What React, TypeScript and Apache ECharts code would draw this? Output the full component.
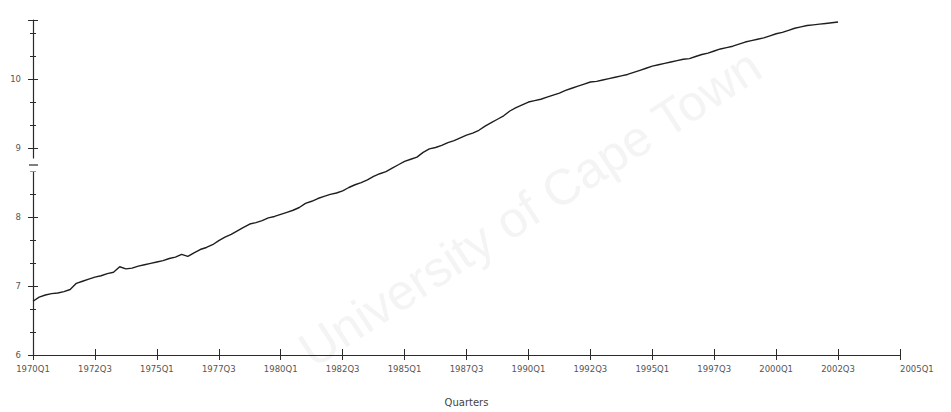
import React, { useEffect, useRef } from "react";
import * as echarts from "echarts";

// Quarter categories from 1970Q1 to 2005Q1
const startYear = 1970;
const quarterCount = 141;
const categories: string[] = [];
for (let i = 0; i < quarterCount; i++) {
  categories.push(`${startYear + Math.floor(i / 4)}Q${(i % 4) + 1}`);
}

// Series values (1970Q1 .. 2002Q3)
const seriesValues: number[] = [
  6.78, 6.84, 6.87, 6.89, 6.90, 6.92, 6.95, 7.04, 7.07, 7.10,
  7.13, 7.15, 7.18, 7.20, 7.28, 7.25, 7.26, 7.29, 7.31, 7.33,
  7.35, 7.37, 7.40, 7.42, 7.46, 7.43, 7.48, 7.53, 7.56, 7.60,
  7.66, 7.71, 7.75, 7.80, 7.85, 7.90, 7.92, 7.95, 7.99, 8.01,
  8.04, 8.07, 8.10, 8.14, 8.20, 8.23, 8.27, 8.30, 8.33, 8.35,
  8.38, 8.43, 8.47, 8.50, 8.54, 8.59, 8.63, 8.66, 8.71, 8.76,
  8.81, 8.84, 8.87, 8.94, 8.99, 9.01, 9.04, 9.08, 9.11, 9.15,
  9.19, 9.22, 9.26, 9.32, 9.37, 9.42, 9.47, 9.54, 9.59, 9.63,
  9.67, 9.69, 9.71, 9.74, 9.77, 9.80, 9.84, 9.87, 9.90, 9.93,
  9.96, 9.97, 9.99, 10.01, 10.03, 10.05, 10.07, 10.10, 10.13, 10.16,
  10.19, 10.21, 10.23, 10.25, 10.27, 10.29, 10.30, 10.33, 10.36, 10.38,
  10.41, 10.44, 10.46, 10.48, 10.51, 10.54, 10.56, 10.58, 10.60, 10.63,
  10.66, 10.68, 10.71, 10.74, 10.76, 10.78, 10.79, 10.80, 10.81, 10.82,
  10.83,
];

const yMin = 6;
const yMax = 10.86;
const yInterval = 1;
const xTickEvery = 10;
const xAxisTitle = "Quarters";
const watermark = "University of Cape Town";

export default function App() {
  const ref = useRef<HTMLDivElement>(null);
  useEffect(() => {
    if (!ref.current) return;
    const chart = echarts.init(ref.current, undefined, { renderer: "svg" });
    const labelStyle = { color: "#555", fontSize: 8.5, fontFamily: "DejaVu Sans" };
    const axisColor = "#2a2a2a";
    chart.setOption({
      animation: false,
      backgroundColor: "#ffffff",
      grid: { left: 33, right: 51, top: 20, bottom: 51, containLabel: false },
      graphic: [
        {
          type: "text",
          x: 530,
          y: 208,
          rotation: 0.576,
          z: -10,
          silent: true,
          style: {
            text: watermark,
            fill: "#f4f4f4",
            font: "50px 'Liberation Sans'",
            textAlign: "center",
            textVerticalAlign: "middle",
          },
        },
        {
          type: "rect",
          z: 100,
          shape: { x: 29, y: 158.5, width: 9, height: 13 },
          style: { fill: "#ffffff" },
        },
        {
          type: "line",
          z: 101,
          shape: { x1: 29, y1: 165, x2: 38, y2: 165 },
          style: { stroke: axisColor, lineWidth: 1.2 },
        },
      ],
      xAxis: [
        {
          type: "category",
          data: categories,
          boundaryGap: false,
          position: "bottom",
          name: xAxisTitle,
          nameLocation: "middle",
          nameGap: 42,
          nameTextStyle: { color: "#444", fontSize: 10, fontFamily: "DejaVu Sans" },
          axisLine: { lineStyle: { color: axisColor, width: 1 } },
          axisTick: {
            interval: xTickEvery - 1,
            length: 5,
            lineStyle: { color: axisColor },
          },
          axisLabel: {
            interval: xTickEvery - 1,
            margin: 9,
            alignMaxLabel: "left",
            ...labelStyle,
          },
          splitLine: { show: false },
        },
        {
          type: "category",
          data: categories,
          boundaryGap: false,
          position: "bottom",
          axisLine: { show: false },
          axisTick: {
            inside: true,
            interval: xTickEvery - 1,
            length: 6,
            lineStyle: { color: axisColor },
          },
          axisLabel: { show: false },
          splitLine: { show: false },
        },
      ],
      yAxis: [
        {
          type: "value",
          position: "left",
          min: yMin,
          max: yMax,
          interval: yInterval,
          axisLine: { show: true, lineStyle: { color: axisColor, width: 1.2 } },
          axisTick: { show: true, length: 5, lineStyle: { color: axisColor } },
          minorTick: { show: true, splitNumber: 3, length: 3, lineStyle: { color: axisColor } },
          axisLabel: { margin: 12, showMaxLabel: false, ...labelStyle },
          splitLine: { show: false },
        },
        {
          type: "value",
          position: "left",
          min: yMin,
          max: yMax,
          interval: yInterval,
          axisLine: { show: false },
          axisTick: { show: true, inside: true, length: 5, lineStyle: { color: axisColor } },
          minorTick: { show: true, splitNumber: 3, length: 3, lineStyle: { color: axisColor } },
          axisLabel: { show: false },
          splitLine: { show: false },
        },
      ],
      series: [
        {
          type: "line",
          data: seriesValues,
          xAxisIndex: 0,
          yAxisIndex: 0,
          showSymbol: false,
          symbol: "none",
          lineStyle: { color: "#1e1e1e", width: 1.4 },
          z: 5,
        },
      ],
    });
    return () => chart.dispose();
  }, []);
  return (
    <div
      ref={ref}
      style={{ position: "fixed", left: 0, top: 0, width: 951, height: 412 }}
    />
  );
}
